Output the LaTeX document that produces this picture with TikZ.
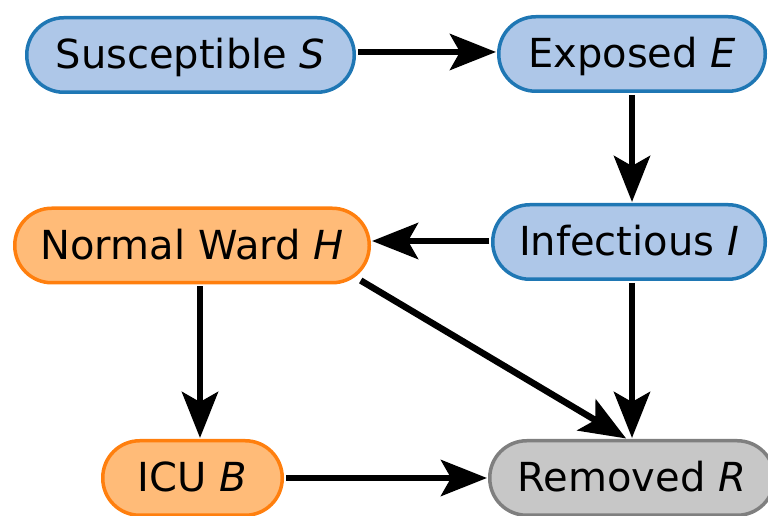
\documentclass[tikz,border=0pt]{standalone}
\usepackage{fontspec}
\setmainfont{DejaVu Sans}
\usetikzlibrary{arrows.meta}
\definecolor{bfill}{HTML}{AEC7E8}
\definecolor{bline}{HTML}{1F77B4}
\definecolor{ofill}{HTML}{FFBB78}
\definecolor{oline}{HTML}{FF7F0E}
\definecolor{gfill}{HTML}{C7C7C7}
\definecolor{gline}{HTML}{7F7F7F}
\tikzset{
  box/.style={rectangle, rounded corners=37pt, line width=3.5pt, minimum height=74.5pt,
    inner sep=0pt, text height=30pt, text depth=2pt, font=\fontsize{40}{44}\selectfont, text=black},
  bluebox/.style={box, fill=bfill, draw=bline},
  orangebox/.style={box, fill=ofill, draw=oline},
  graybox/.style={box, fill=gfill, draw=gline},
  arr/.style={line width=6.5pt, -{Stealth[length=46pt, width=36pt, inset=10pt]}, shorten <=2pt, shorten >=1pt}
}
\begin{document}
\begin{tikzpicture}[x=1pt, y=1pt]
\useasboundingbox (0,0) rectangle (768,516);
\node[bluebox, minimum width=327.5pt] (S) at (190.5,461) {Susceptible \textit{S}};
\node[bluebox, minimum width=266.5pt] (E) at (632,462) {Exposed \textit{E}};
\node[orangebox, minimum width=354.5pt] (H) at (192,270.5) {Normal Ward \textit{H}};
\node[bluebox, minimum width=272.5pt] (I) at (629,274) {Infectious \textit{I}};
\node[orangebox, minimum width=179.5pt] (B) at (192.5,38) {ICU \textit{B}};
\node[graybox, minimum width=284.5pt] (R) at (632,38) {Removed \textit{R}};
\draw[arr] ([yshift=3pt]S.east) -- ([yshift=3pt]S.east -| E.west);
\draw[arr] (E.south) -- (I.north -| E.south);
\draw[arr] ([yshift=1pt]I.west) -- ([yshift=1pt]I.west -| H.east);
\draw[arr] ([xshift=8pt]H.south) -- ([xshift=8pt]H.south |- B.north);
\draw[arr] ([xshift=-12pt,yshift=5pt]H.south east) -- ([xshift=-5pt]R.north);
\draw[arr] (I.south -| R.north) -- (R.north);
\draw[arr] (B.east) -- (R.west);
\end{tikzpicture}
\end{document}
